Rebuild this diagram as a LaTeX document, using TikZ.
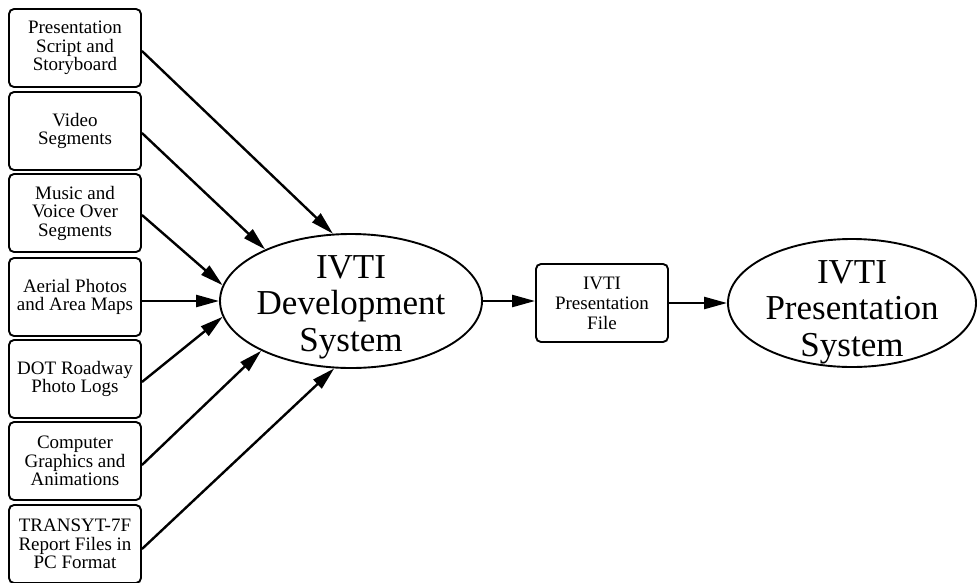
\documentclass[tikz,border=0pt]{standalone}
\usepackage{fontspec}
\setmainfont{Liberation Serif}
\usetikzlibrary{arrows.meta,shapes.geometric}

\begin{document}
\begin{tikzpicture}[x=1pt,y=-1pt,
  srcbox/.style={draw, line width=1.9pt, rounded corners=5pt,
    minimum width=132pt, minimum height=78pt, inner sep=0pt,
    align=center, font=\fontsize{19}{18.5}\selectfont},
  filebox/.style={srcbox, font=\fontsize{19}{20}\selectfont},
  sysshape/.style={draw, ellipse, line width=1.9pt, inner sep=0pt},
  systext/.style={align=center, inner sep=0pt, font=\fontsize{35}{36.5}\selectfont},
  feed/.style={line width=2.4pt, -{Triangle[length=23pt,width=12pt]}}]

\useasboundingbox (0,0) rectangle (977,582);

% input material boxes
\node[srcbox] (b1) at (75,48)  {Presentation\\Script and\\Storyboard};
\node[srcbox] (b2) at (75,131) {Video\\Segments};
\node[srcbox] (b3) at (75,213) {Music and\\Voice Over\\Segments};
\node[srcbox] (b4) at (75,297) {Aerial Photos\\and Area Maps};
\node[srcbox] (b5) at (75,379) {DOT Roadway\\Photo Logs};
\node[srcbox] (b6) at (75,461) {Computer\\Graphics and\\Animations};
\node[srcbox] (b7) at (75,544) {TRANSYT-7F\\Report Files in\\PC Format};

% development system
\node[sysshape, minimum width=262pt, minimum height=134pt] (dev) at (351,301) {};
\node[systext] (devtxt) at (351,307) {IVTI\\Development\\System};

% output file
\node[filebox] (file) at (602,303) {IVTI\\Presentation\\File};

% presentation system
\node[sysshape, minimum width=248pt, minimum height=128pt] (pres) at (852,303) {};
\node[systext] (prestxt) at (852,312) {IVTI\\Presentation\\System};

% inputs into the development system
\draw[feed] ([yshift=-3pt]b1.east) -- (dev.105);
\draw[feed] ([yshift=-2pt]b2.east) -- (dev.149);
\draw[feed] ([yshift=-2pt]b3.east) -- (dev.173);
\draw[feed] (b4.east |- dev.west) -- (dev.west);
\draw[feed] ([yshift=-3pt]b5.east) -- (dev.187);
\draw[feed] ([yshift=-4pt]b6.east) -- (dev.209);
\draw[feed] ([yshift=-5pt]b7.east) -- (dev.256);

% output chain
\draw[feed] (dev.east) -- (dev.east -| file.west);
\draw[feed] (file.east) -- (file.east -| pres.west);
\end{tikzpicture}
\end{document}
